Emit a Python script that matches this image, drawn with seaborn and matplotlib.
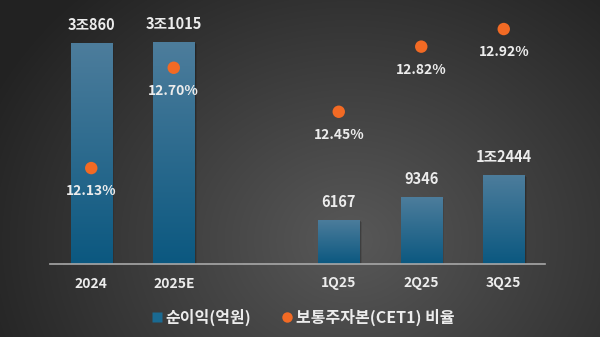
import numpy as np
import pandas as pd
import matplotlib
matplotlib.use("Agg")
import matplotlib.pyplot as plt
from matplotlib.lines import Line2D
import seaborn as sns

# Net profit (100 million KRW) and CET1 ratio (%)
periods = ["2024", "2025E", "1Q25", "2Q25", "3Q25"]
net_profit = [30860, 31015, 6167, 9346, 12444]
cet1_ratio = [12.13, 12.70, 12.45, 12.82, 12.92]
slot_order = ["2024", "2025E", " ", "1Q25", "2Q25", "3Q25"]
legend_labels = ["순이익(억원)", "보통주자본(CET1) 비율"]

sns.set_theme(style="white")
plt.rcParams["font.family"] = ["Noto Sans CJK KR", "DejaVu Sans"]

TEXT = "#ececec"
BAR_TOP = np.array([0x4d, 0x7d, 0x9c]) / 255
BAR_BOT = np.array([0x0b, 0x58, 0x80]) / 255
ORANGE = "#f26a24"

W, H = 600, 337
fig = plt.figure(figsize=(W / 100, H / 100), dpi=100)

# radial dark-gray backdrop
bg = fig.add_axes([0, 0, 1, 1], zorder=-10)
yy, xx = np.mgrid[0:H, 0:W]
r = np.sqrt((xx - 350) ** 2 + ((yy - 240) / 0.85) ** 2) / 400
r = np.clip(r, 0, 1)
inner, outer = np.array([0x58, 0x58, 0x58]) / 255, np.array([0x22, 0x22, 0x22]) / 255
img = inner[None, None, :] * (1 - r[..., None]) + outer[None, None, :] * r[..., None]
bg.imshow(img, extent=[0, 1, 0, 1], aspect="auto", origin="upper")
bg.set_axis_off()

ax = fig.add_axes([50 / W, 73 / H, 495 / W, 264 / H])
ax.patch.set_alpha(0)

df = pd.DataFrame({"period": periods, "profit": net_profit})
sns.barplot(data=df, x="period", y="profit", order=slot_order, ax=ax,
            width=0.5, color=BAR_BOT, saturation=1, linewidth=0,
            edgecolor="none", zorder=2)
ax.set_xlim(-0.5, 5.5)
ax.set_ylim(0, 36900)

# vertical gradient fill + soft shadow on every bar
grad = np.linspace(0, 1, 256)[:, None, None]
grad_img = BAR_TOP[None, None, :] * (1 - grad) + BAR_BOT[None, None, :] * grad
for p in list(ax.patches):
    x0, y0 = p.get_x(), p.get_y()
    w, h = p.get_width(), p.get_height()
    if h <= 0:
        continue
    p.set_edgecolor("none")
    p.set_linewidth(0)
    for k, a in enumerate([0.18, 0.10]):
        d = 0.015 * (k + 1)
        ax.add_patch(plt.Rectangle((x0 + d, y0), w, h - 150 * (k + 1), color="black",
                                   alpha=a, zorder=1.5, lw=0))
    im = ax.imshow(grad_img, extent=[x0, x0 + w, y0, y0 + h], aspect="auto",
                   origin="upper", zorder=2.5)
    im.set_clip_path(p)

def fmt_profit(v):
    if v >= 10000:
        return f"{v // 10000}조{v % 10000}"
    return f"{v}"

for per, v in zip(periods, net_profit):
    xi = slot_order.index(per)
    ax.annotate(fmt_profit(v), (xi, v), xytext=(0, 13), textcoords="offset points",
                ha="center", va="center", color=TEXT, fontsize=10.5, fontweight="bold")

for s in ["top", "left", "right"]:
    ax.spines[s].set_visible(False)
ax.spines["bottom"].set_color("#a8a8a8")
ax.spines["bottom"].set_linewidth(1.2)
ax.set_yticks([])
ax.set_xlabel("")
ax.set_ylabel("")
ax.tick_params(axis="x", length=0, pad=9, colors=TEXT, labelsize=10)
for t in ax.get_xticklabels():
    t.set_fontweight("bold")

# CET1 ratio on a secondary scale
ax2 = ax.twinx()
ax2.set_ylim(11.585, 13.085)
xs = [slot_order.index(p) for p in periods]
sns.scatterplot(x=xs, y=cet1_ratio, ax=ax2, color=ORANGE, s=80,
                edgecolor="none", zorder=4)
for xi, v in zip(xs, cet1_ratio):
    ax2.annotate(f"{v:.2f}%", (xi, v), xytext=(0, -16.5), textcoords="offset points",
                 ha="center", va="center", color=TEXT, fontsize=10, fontweight="bold")
ax2.set_axis_off()

handles = [
    Line2D([], [], marker="s", linestyle="none", markersize=6.5,
           markerfacecolor="#1a6a92", markeredgecolor="none"),
    Line2D([], [], marker="o", linestyle="none", markersize=7.5,
           markerfacecolor=ORANGE, markeredgecolor="none"),
]
leg = fig.legend(handles, legend_labels, loc="center", ncol=2,
                 bbox_to_anchor=(302 / W, 1 - 317 / H), frameon=False,
                 handletextpad=0.1, columnspacing=1.8, handlelength=0.9,
                 prop={"size": 11.5, "weight": "bold"})
for t in leg.get_texts():
    t.set_color(TEXT)

fig.savefig("out.png", dpi=100)
